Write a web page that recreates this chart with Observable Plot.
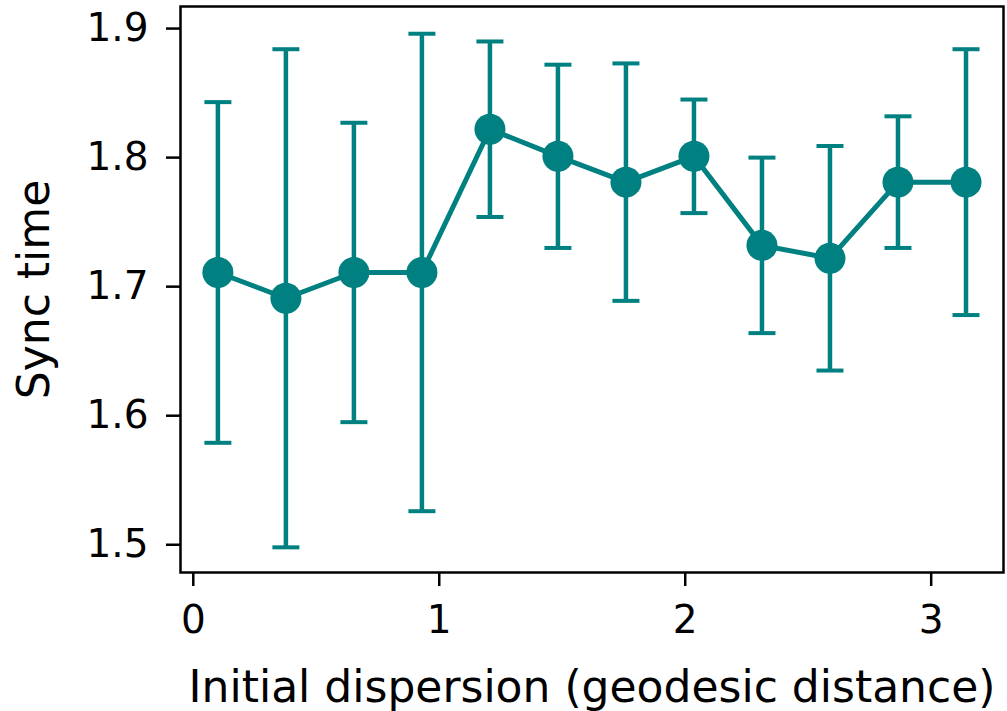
<!DOCTYPE html>
<html><head><meta charset="utf-8">
<script src="https://cdn.jsdelivr.net/npm/d3@7"></script>
<script src="https://cdn.jsdelivr.net/npm/@observablehq/plot@0.6"></script>
<style>body{margin:0;background:#fff}</style>
</head><body><div id="chart"></div>
<script>
const dispersion = [0.1, 0.3765, 0.653, 0.9295, 1.206, 1.4825, 1.759, 2.0355, 2.312, 2.5885, 2.865, 3.1416];
const syncTime = [1.711, 1.691, 1.711, 1.711, 1.822, 1.801, 1.781, 1.801, 1.732, 1.722, 1.781, 1.781];
const syncErr = [0.132, 0.193, 0.116, 0.185, 0.068, 0.071, 0.092, 0.044, 0.068, 0.087, 0.051, 0.103];
const xTicks = [0, 1, 2, 3];
const yTicks = [1.5, 1.6, 1.7, 1.8, 1.9];
const xLabel = "Initial dispersion (geodesic distance)";
const yLabel = "Sync time";

const data = dispersion.map((x, i) => ({x, y: syncTime[i], lo: syncTime[i] - syncErr[i], hi: syncTime[i] + syncErr[i]}));
const teal = "#008080";
const capSymbol = {draw(ctx, size) { ctx.moveTo(-13.5, 0); ctx.lineTo(13.5, 0); }};

const chart = Plot.plot({
  width: 1007, height: 711,
  marginLeft: 180, marginRight: 4, marginTop: 6, marginBottom: 139,
  style: {fontFamily: "DejaVu Sans", background: "white", color: "black"},
  x: {domain: [-0.052, 3.294]},
  y: {domain: [1.4785, 1.9171]},
  marks: [
    Plot.ruleX(data, {x: "x", y1: "lo", y2: "hi", stroke: teal, strokeWidth: 4.5}),
    Plot.dot(data, {x: "x", y: "lo", symbol: capSymbol, stroke: teal, strokeWidth: 4, fill: "none"}),
    Plot.dot(data, {x: "x", y: "hi", symbol: capSymbol, stroke: teal, strokeWidth: 4, fill: "none"}),
    Plot.line(data, {x: "x", y: "y", stroke: teal, strokeWidth: 5}),
    Plot.dot(data, {x: "x", y: "y", r: 15.5, fill: teal, stroke: "none"}),
    Plot.frame({stroke: "black", strokeWidth: 2.5}),
    Plot.axisX({ticks: xTicks, tickSize: 14, tickPadding: 19, fontSize: 39, label: null, strokeWidth: 2.5, tickFormat: d3.format("d")}),
    Plot.axisY({ticks: yTicks, tickSize: 14, tickPadding: 18, fontSize: 39, label: null, strokeWidth: 2.5, tickFormat: d3.format(".1f")}),
    Plot.text([xLabel], {text: d => d, frameAnchor: "bottom", dy: 129, lineAnchor: "bottom", fontSize: 44, fill: "black"}),
    Plot.text([yLabel], {text: d => d, frameAnchor: "left", textAnchor: "middle", dx: -132, rotate: -90, lineAnchor: "bottom", fontSize: 44, fill: "black"})
  ]
});
document.getElementById("chart").append(chart);
</script>
</body></html>
